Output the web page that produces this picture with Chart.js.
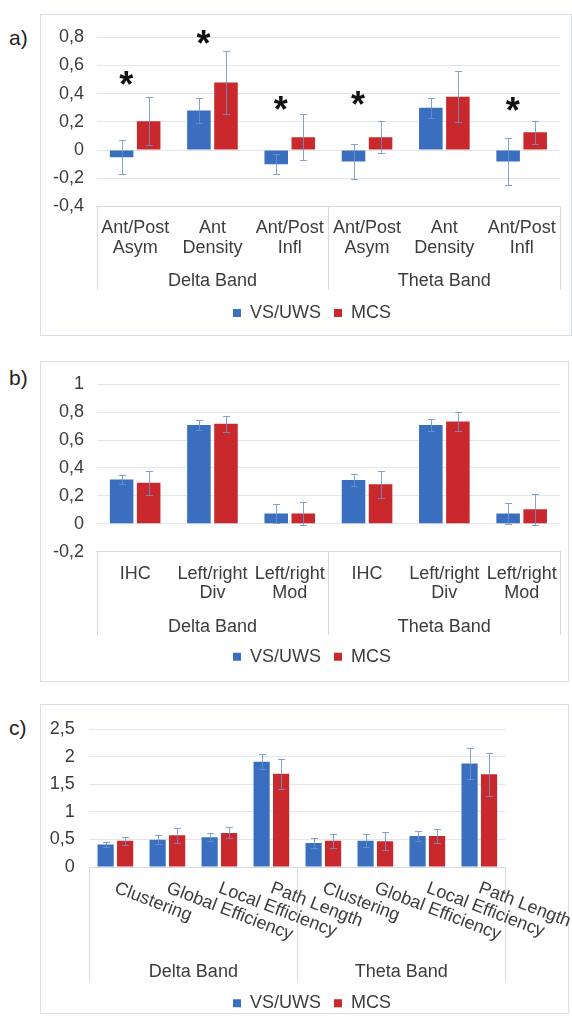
<!DOCTYPE html>
<html>
<head>
<meta charset="utf-8">
<script src="https://cdn.jsdelivr.net/npm/chart.js@4.4.1/dist/chart.umd.min.js"></script>
<style>
html, body { margin: 0; padding: 0; background: #fff; overflow: hidden; }
body { width: 572px; height: 1019px; position: relative; font-family: "Liberation Sans", Arial, sans-serif; }
.frame { position: absolute; border: 1px solid #d6dfec; box-sizing: border-box; }
.tag { position: absolute; left: 9px; font-size: 21px; line-height: 21px; color: #222; }
canvas { position: absolute; left: 0; }
</style>
</head>
<body>
<div class="frame" style="left:40px;top:14px;width:532px;height:322px"></div>
<div class="frame" style="left:40px;top:361px;width:529px;height:321px"></div>
<div class="frame" style="left:40px;top:704px;width:529px;height:310px"></div>
<div class="tag" style="top:27px">a)</div>
<div class="tag" style="top:367px">b)</div>
<div class="tag" style="top:717px">c)</div>
<canvas id="chartA" width="572" height="321" style="top:14px"></canvas>
<canvas id="chartB" width="572" height="320" style="top:361px"></canvas>
<canvas id="chartC" width="572" height="330" style="top:704px"></canvas>
<script>
// ---- data ----
var bandLabels = ['Delta Band', 'Theta Band'];
var seriesNames = ['VS/UWS', 'MCS'];

// a) anterior/posterior measures
var catsA = [['Ant/Post', 'Asym'], ['Ant', 'Density'], ['Ant/Post', 'Infl'],
             ['Ant/Post', 'Asym'], ['Ant', 'Density'], ['Ant/Post', 'Infl']];
var vsA = [-0.05, 0.28, -0.10, -0.08, 0.30, -0.08];
var vsErrA = [0.12, 0.087, 0.073, 0.122, 0.073, 0.167];
var mcsA = [0.205, 0.479, 0.092, 0.092, 0.379, 0.126];
var mcsErrA = [0.172, 0.224, 0.161, 0.116, 0.183, 0.082];
var starsA = [0.46, 0.753, 0.286, 0.32, null, 0.275];
var yTicksA = [-0.4, -0.2, 0, 0.2, 0.4, 0.6, 0.8];

// b) hemispheric measures
var catsB = [['IHC'], ['Left/right', 'Div'], ['Left/right', 'Mod'],
             ['IHC'], ['Left/right', 'Div'], ['Left/right', 'Mod']];
var vsB = [0.318, 0.708, 0.074, 0.314, 0.708, 0.074];
var vsErrB = [0.035, 0.035, 0.065, 0.046, 0.042, 0.074];
var mcsB = [0.295, 0.717, 0.074, 0.284, 0.733, 0.104];
var mcsErrB = [0.085, 0.056, 0.083, 0.097, 0.07, 0.113];
var yTicksB = [-0.2, 0, 0.2, 0.4, 0.6, 0.8, 1];

// c) graph measures
var catsC = ['Clustering', 'Global Efficiency', 'Local Efficiency', 'Path Length',
             'Clustering', 'Global Efficiency', 'Local Efficiency', 'Path Length'];
var vsC = [0.408, 0.494, 0.54, 1.914, 0.437, 0.477, 0.563, 1.879];
var vsErrC = [0.04, 0.085, 0.07, 0.13, 0.085, 0.115, 0.087, 0.28];
var mcsC = [0.477, 0.575, 0.62, 1.695, 0.477, 0.466, 0.563, 1.684];
var mcsErrC = [0.075, 0.13, 0.10, 0.275, 0.125, 0.165, 0.13, 0.385];
var yTicksC = [0, 0.5, 1, 1.5, 2, 2.5];

// ---- style ----
var BLUE = '#3a6fc0';
var RED = '#c9282d';
var ERR = 'rgba(110,145,205,0.85)';
var GRID = '#e3e6eb';
var LINE = '#d7dbe1';
var TEXT = '#3c3c3c';
var FONT = '"Liberation Sans", Arial, sans-serif';

Chart.defaults.font.family = FONT;
Chart.defaults.font.size = 18;
Chart.defaults.color = TEXT;

function fmt(v) {
    return String(Math.round(v * 10) / 10).replace('.', ',');
}

// error bars drawn from each dataset's "errors" list
var errorBars = {
    id: 'errorBars',
    afterDatasetsDraw: function (chart) {
        var ctx = chart.ctx, y = chart.scales.y;
        ctx.save();
        ctx.strokeStyle = ERR;
        ctx.lineWidth = 1;
        chart.data.datasets.forEach(function (ds, d) {
            chart.getDatasetMeta(d).data.forEach(function (bar, i) {
                var v = ds.data[i], e = ds.errors[i];
                var x = Math.round(bar.x) + 0.5;
                var hi = Math.round(y.getPixelForValue(v + e)) + 0.5;
                var lo = Math.round(y.getPixelForValue(v - e)) + 0.5;
                ctx.beginPath();
                ctx.moveTo(x, hi); ctx.lineTo(x, lo);
                ctx.moveTo(x - 3.5, hi); ctx.lineTo(x + 3.5, hi);
                ctx.moveTo(x - 3.5, lo); ctx.lineTo(x + 3.5, lo);
                ctx.stroke();
            });
        });
        ctx.restore();
    }
};

// the box lines around the two band groups under the axis
var bandBox = {
    id: 'bandBox',
    afterDraw: function (chart) {
        var x = chart.scales.x, ctx = chart.ctx;
        var top = chart.chartArea.bottom, bottom = chart.scales.x2.bottom;
        var n = chart.data.labels.length / 2;
        var mid = (x.getPixelForValue(n - 1) + x.getPixelForValue(n)) / 2;
        ctx.save();
        ctx.strokeStyle = LINE;
        ctx.lineWidth = 1;
        [x.left, mid, x.right].forEach(function (px) {
            var p = Math.round(px) + 0.5;
            ctx.beginPath();
            ctx.moveTo(p, top);
            ctx.lineTo(p, bottom);
            ctx.stroke();
        });
        ctx.restore();
    }
};

// significance asterisks
var stars = {
    id: 'stars',
    afterDatasetsDraw: function (chart, args, opts) {
        if (!opts || !opts.values) return;
        var ctx = chart.ctx, x = chart.scales.x, y = chart.scales.y;
        ctx.save();
        ctx.font = 'bold 36px ' + FONT;
        ctx.fillStyle = '#111';
        ctx.textAlign = 'center';
        ctx.textBaseline = 'alphabetic';
        opts.values.forEach(function (v, i) {
            if (v === null) return;
            ctx.fillText('*', x.getPixelForValue(i) - 9, y.getPixelForValue(v) + 12);
        });
        ctx.restore();
    }
};

// slanted category labels (panel c)
var rotLabels = {
    id: 'rotLabels',
    afterDraw: function (chart, args, opts) {
        if (!opts || !opts.angle) return;
        var ctx = chart.ctx, x = chart.scales.x;
        ctx.save();
        ctx.font = '18px ' + FONT;
        ctx.fillStyle = TEXT;
        ctx.textAlign = 'left';
        ctx.textBaseline = 'middle';
        chart.data.labels.forEach(function (lab, i) {
            ctx.save();
            ctx.translate(x.getPixelForValue(i), chart.chartArea.bottom + opts.offset);
            ctx.rotate(opts.angle * Math.PI / 180);
            ctx.fillText(lab, 0, 0);
            ctx.restore();
        });
        ctx.restore();
    }
};

// move the legend to where the original had it
var legendPlace = {
    id: 'legendPlace',
    afterLayout: function (chart, args, opts) {
        var lg = chart.legend;
        if (!lg || !opts || opts.x == null) return;
        var w = lg.right - lg.left, h = lg.bottom - lg.top;
        var pad = chart.options.plugins.legend.labels.padding;
        lg.left = opts.x - w / 2;
        lg.right = lg.left + w;
        lg.top = opts.y - pad - 9;
        lg.bottom = lg.top + h;
    }
};

function makeChart(id, o) {
    var ticks = o.ticks;
    return new Chart(document.getElementById(id), {
        type: 'bar',
        data: {
            labels: o.cats,
            datasets: [
                {label: seriesNames[0], data: o.vs, errors: o.vsErr, backgroundColor: BLUE,
                    categoryPercentage: o.catPct, barPercentage: o.barPct},
                {label: seriesNames[1], data: o.mcs, errors: o.mcsErr, backgroundColor: RED,
                    categoryPercentage: o.catPct, barPercentage: o.barPct}
            ]
        },
        options: {
            responsive: false,
            animation: false,
            layout: {padding: {left: 0, right: o.padRight, top: o.padTop, bottom: o.padBottom}},
            scales: {
                x: {
                    grid: {display: false, drawTicks: false},
                    border: {display: true, color: LINE, width: 1},
                    ticks: {display: !o.rotated, padding: 12, maxRotation: 0, autoSkip: false,
                        font: {size: 18, lineHeight: 1.1}},
                    afterFit: function (s) { s.height = o.h1; }
                },
                x2: {
                    type: 'category',
                    labels: bandLabels,
                    position: 'bottom',
                    offset: true,
                    weight: 1,
                    grid: {display: false, drawTicks: false},
                    border: {display: false},
                    ticks: {padding: 10, maxRotation: 0, autoSkip: false, font: {size: 18, lineHeight: 1.1}},
                    afterFit: function (s) { s.height = o.h2; }
                },
                y: {
                    min: ticks[0],
                    max: ticks[ticks.length - 1],
                    afterBuildTicks: function (s) {
                        s.ticks = ticks.map(function (v) { return {value: v}; });
                    },
                    afterFit: function (s) { s.width = o.yWidth; },
                    grid: {color: GRID, drawTicks: false},
                    border: {display: false},
                    ticks: {padding: o.tickPad, callback: function (v) { return fmt(v); }}
                }
            },
            plugins: {
                legend: {
                    position: 'bottom',
                    labels: {boxWidth: 8, boxHeight: 8, padding: 13, color: TEXT, font: {size: 18}}
                },
                tooltip: {enabled: false},
                stars: {values: o.stars || null},
                rotLabels: o.rotated || {},
                legendPlace: {x: 312, y: o.legendY}
            }
        },
        plugins: [errorBars, bandBox, stars, rotLabels, legendPlace]
    });
}

makeChart('chartA', {
    cats: catsA, vs: vsA, vsErr: vsErrA, mcs: mcsA, mcsErr: mcsErrA, ticks: yTicksA, stars: starsA,
    yWidth: 96.5, tickPad: 12.5, padRight: 11.7, padTop: 17.5, padBottom: 4,
    h1: 55, h2: 28.5, catPct: 0.7, barPct: 0.87, legendY: 299
});

makeChart('chartB', {
    cats: catsB, vs: vsB, vsErr: vsErrB, mcs: mcsB, mcsErr: mcsErrB, ticks: yTicksB,
    yWidth: 96.5, tickPad: 12.5, padRight: 11.7, padTop: 17.3, padBottom: 5,
    h1: 55, h2: 28.3, catPct: 0.7, barPct: 0.87, legendY: 295.7
});

makeChart('chartC', {
    cats: catsC, vs: vsC, vsErr: vsErrC, mcs: mcsC, mcsErr: mcsErrC, ticks: yTicksC,
    rotated: {angle: 21, offset: 20.5},
    yWidth: 89.4, tickPad: 14.6, padRight: 66.7, padTop: 20, padBottom: 11,
    h1: 85, h2: 30, catPct: 0.75, barPct: 0.83, legendY: 299.3
});
</script>
</body>
</html>
